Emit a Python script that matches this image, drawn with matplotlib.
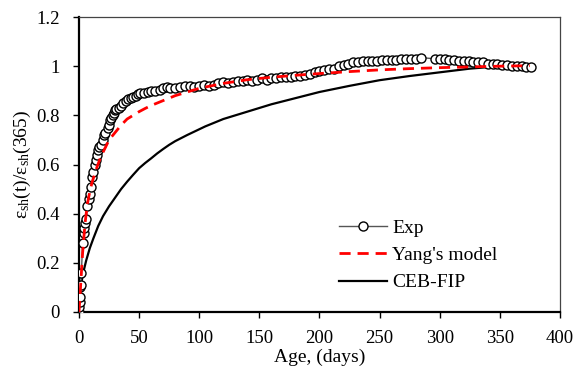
import matplotlib
matplotlib.use("Agg")
import matplotlib.pyplot as plt

plt.rcParams['font.family'] = ['Liberation Serif', 'DejaVu Serif']
plt.rcParams['mathtext.fontset'] = 'stix'

exp_days = [0, 0.3, 0.5, 0.7, 1, 1.5, 2, 3, 4, 4.5, 5, 6, 7, 8, 9, 10, 11, 12, 13, 14,
            15, 16, 17, 18, 20, 21, 22, 24, 25, 26, 27, 28, 29, 30, 31, 33, 35, 37, 39, 41,
            43, 45, 47, 49, 51, 54, 57, 60, 63, 67, 70, 73, 76, 80, 84, 88, 92, 96, 100, 104,
            108, 112, 116, 120, 124, 128, 132, 136, 140, 144, 148, 152, 156, 160, 164, 168, 172, 176, 180, 184,
            188, 192, 196, 200, 204, 208, 212, 216, 220, 224, 228, 232, 236, 240, 244, 248, 252, 256, 260, 264,
            268, 272, 276, 280, 284, 296, 300, 304, 308, 312, 316, 320, 324, 328, 332, 336, 340, 344, 348, 352,
            356, 360, 364, 368, 372, 376]
exp_vals = [0.00, 0.02, 0.04, 0.06, 0.10, 0.11, 0.16, 0.28, 0.32, 0.34, 0.36, 0.38, 0.43, 0.46, 0.48, 0.51, 0.55, 0.57, 0.60, 0.62,
            0.64, 0.66, 0.67, 0.68, 0.70, 0.72, 0.73, 0.75, 0.76, 0.78, 0.79, 0.80, 0.81, 0.82, 0.825, 0.83, 0.84, 0.85, 0.86, 0.865,
            0.87, 0.875, 0.88, 0.885, 0.89, 0.89, 0.895, 0.90, 0.90, 0.905, 0.91, 0.915, 0.91, 0.91, 0.915, 0.92, 0.92, 0.915, 0.92, 0.925,
            0.92, 0.925, 0.93, 0.935, 0.93, 0.935, 0.94, 0.94, 0.945, 0.94, 0.945, 0.95, 0.945, 0.95, 0.95, 0.955, 0.955, 0.955, 0.96, 0.96,
            0.965, 0.97, 0.975, 0.98, 0.985, 0.99, 0.99, 1.00, 1.005, 1.01, 1.015, 1.015, 1.02, 1.02, 1.02, 1.02, 1.025, 1.025, 1.025, 1.025,
            1.03, 1.03, 1.03, 1.03, 1.035, 1.03, 1.03, 1.03, 1.025, 1.025, 1.02, 1.02, 1.02, 1.015, 1.015, 1.015, 1.01, 1.01, 1.01, 1.005,
            1.005, 1.00, 1.00, 1.00, 0.995, 0.995]

# Yang's model
yang_days = [0, 1, 2, 3, 5, 7, 9, 11, 13, 15, 18, 21, 25, 30, 35, 40, 45, 50, 55, 60, 65, 70, 80,
             90, 100, 120, 140, 160, 180, 200, 225, 250, 275, 300, 325, 350, 375]
yang_vals = [0, 0.08, 0.16, 0.24, 0.36, 0.44, 0.49, 0.53, 0.56, 0.59, 0.63, 0.66, 0.70, 0.73, 0.76, 0.785, 0.80, 0.815, 0.828, 0.84, 0.85, 0.86, 0.88,
             0.895, 0.91, 0.93, 0.945, 0.955, 0.963, 0.97, 0.978, 0.985, 0.99, 0.994, 0.997, 1.0, 1.002]

# CEB-FIP
ceb_days = [0, 1, 2, 4, 6, 9, 12, 16, 20, 25, 30, 35, 40, 45, 50, 55, 60, 65, 70, 75, 80, 90, 105, 120, 140, 160,
            180, 200, 225, 250, 275, 300, 325, 350, 375]
ceb_vals = [0, 0.08, 0.12, 0.17, 0.21, 0.26, 0.30, 0.35, 0.39, 0.43, 0.465, 0.50, 0.53, 0.558, 0.585, 0.606, 0.625, 0.645, 0.663, 0.68, 0.695, 0.72, 0.755, 0.785, 0.815, 0.845,
            0.87, 0.895, 0.92, 0.943, 0.96, 0.975, 0.99, 1.0, 1.008]

fig = plt.figure(figsize=(5.75, 3.74), dpi=100)
ax = fig.add_axes([0.1374, 0.1658, 0.8365, 0.7887])

ax.plot(exp_days, exp_vals, color='#555555', lw=1, marker='o', ms=6.5,
        mfc='white', mec='black', mew=1, label='Exp', zorder=3)
ax.plot(yang_days, yang_vals, color='red', lw=2, ls=(0, (4, 2.5)), label="Yang's model", zorder=4)
ax.plot(ceb_days, ceb_vals, color='black', lw=1.6, label='CEB-FIP', zorder=2)

ax.set_xlim(0, 400)
ax.set_ylim(0, 1.2)
ax.set_xticks([0, 50, 100, 150, 200, 250, 300, 350, 400])
ax.set_yticks([0, 0.2, 0.4, 0.6, 0.8, 1.0, 1.2])
ax.set_yticklabels(['0', '0.2', '0.4', '0.6', '0.8', '1', '1.2'])
ax.tick_params(direction='out', length=4, width=1, labelsize=13.5)
ax.tick_params(axis='x', pad=9)
ax.tick_params(axis='y', pad=10)

for s in ['left', 'bottom']:
    ax.spines[s].set_linewidth(1.6)
    ax.spines[s].set_color('black')
for s in ['top', 'right']:
    ax.spines[s].set_linewidth(0.9)
    ax.spines[s].set_color('#444444')

ax.set_xlabel('Age, (days)', fontsize=14, labelpad=1)
ax.set_ylabel(r'$\mathregular{\varepsilon_{sh}(t)/\varepsilon_{sh}(365)}$', fontsize=14, labelpad=2)

ax.legend(loc='upper left', bbox_to_anchor=(0.54, 0.315), frameon=False, fontsize=14,
          handlelength=2.5, handletextpad=0.25, labelspacing=0.5, borderpad=0, borderaxespad=0)

fig.savefig('out.png', dpi=100)
